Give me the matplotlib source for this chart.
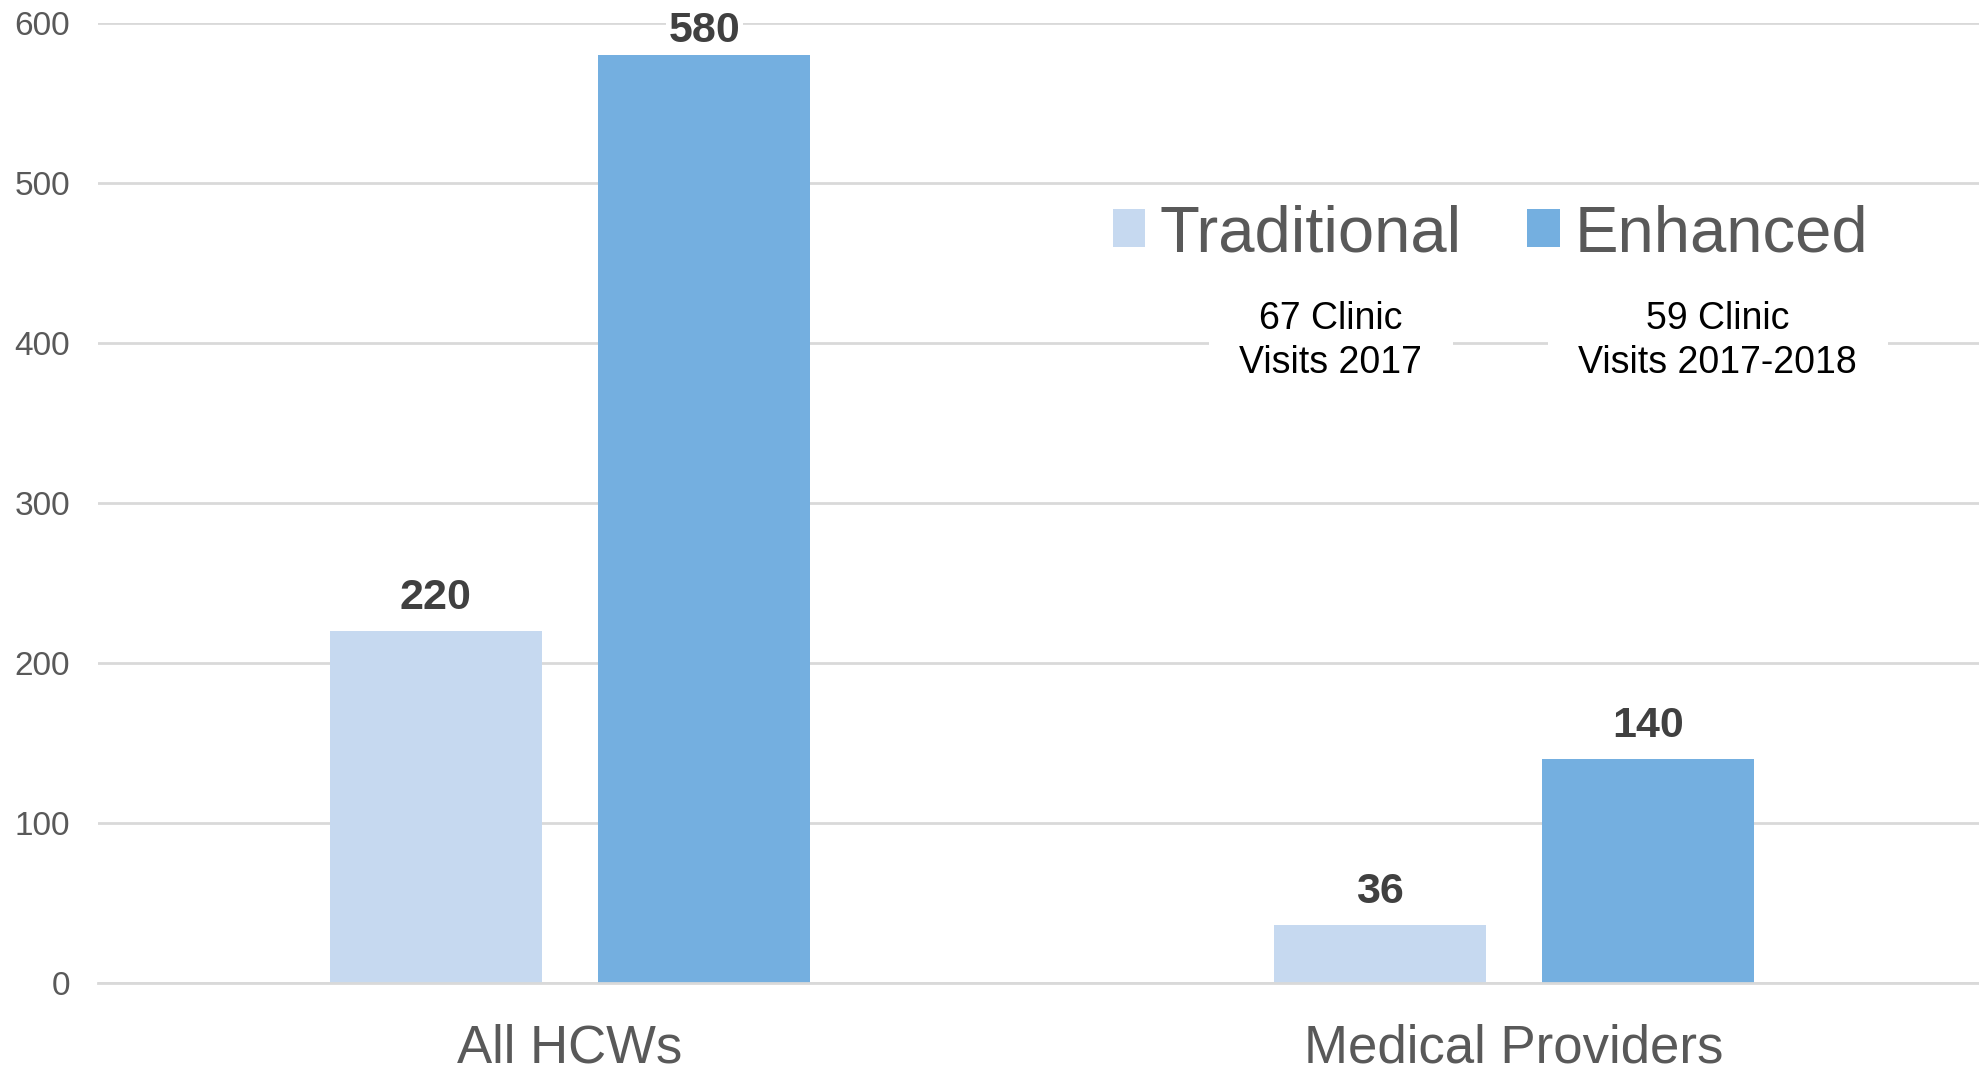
import matplotlib.pyplot as plt
from matplotlib.patches import Patch
import numpy as np

plt.rcParams['font.family'] = ['Liberation Sans', 'DejaVu Sans']

categories = ['All HCWs', 'Medical Providers']
series = ['Traditional', 'Enhanced']
traditional = [220, 36]
enhanced = [580, 140]
notes = ['67 Clinic\nVisits 2017', '59 Clinic\nVisits 2017-2018']
note_x = [0.806, 1.216]
note_y = 401

light = '#C6D9F0'
dark = '#74AFE0'
grid = '#D9D9D9'
gray = '#595959'

fig = plt.figure(figsize=(19.79, 10.68), dpi=100)
ax = fig.add_axes([0.0495, 0.0796, 0.954, 0.899])

x = np.arange(len(categories))
w = 0.2246
off = 0.1423
b1 = ax.bar(x - off, traditional, w, color=light, zorder=2)
b2 = ax.bar(x + off, enhanced, w, color=dark, zorder=2)

ax.set_xlim(-0.5, 1.5)
ax.set_ylim(0, 600)
ax.set_yticks(range(0, 601, 100))
ax.yaxis.grid(True, color=grid, linewidth=2, zorder=0)
ax.set_axisbelow(True)
for s in ['top', 'right', 'left']:
    ax.spines[s].set_visible(False)
ax.spines['bottom'].set_color(grid)
ax.spines['bottom'].set_linewidth(2)
ax.tick_params(axis='both', length=0)
ax.tick_params(axis='y', labelsize=24, labelcolor=gray, pad=20)
ax.set_xticks(x)
ax.set_xticklabels(categories, fontsize=38, color=gray)
ax.tick_params(axis='x', pad=29)

# value labels
for bars, vals in [(b1, traditional), (b2, enhanced)]:
    for r, v in zip(bars, vals):
        dy = 17 if v > 560 else 24
        ax.annotate(str(v), (r.get_x() + r.get_width() / 2, v),
                    xytext=(0, dy), textcoords='offset points',
                    ha='center', va='center', fontsize=31, fontweight='bold',
                    color='#404040', zorder=5,
                    bbox=dict(facecolor='white', edgecolor='none', pad=2) if v > 560 else None)

# clinic visit notes
for nx, t in zip(note_x, notes):
    ax.text(nx, note_y, t, ha='center', va='center', fontsize=27,
            color='black', linespacing=1.28, zorder=4,
            bbox=dict(facecolor='white', edgecolor='none', pad=22))

handles = [Patch(facecolor=light, edgecolor='none'),
           Patch(facecolor=dark, edgecolor='none')]
leg = ax.legend(handles, series, loc='center', bbox_to_anchor=(0.7375, 0.78),
                ncol=2, fontsize=47, frameon=False, handlelength=0.5,
                handleheight=0.5, handletextpad=0.22, columnspacing=1.0,
                borderpad=0)
for t in leg.get_texts():
    t.set_color(gray)

plt.savefig('out.png', dpi=100)
